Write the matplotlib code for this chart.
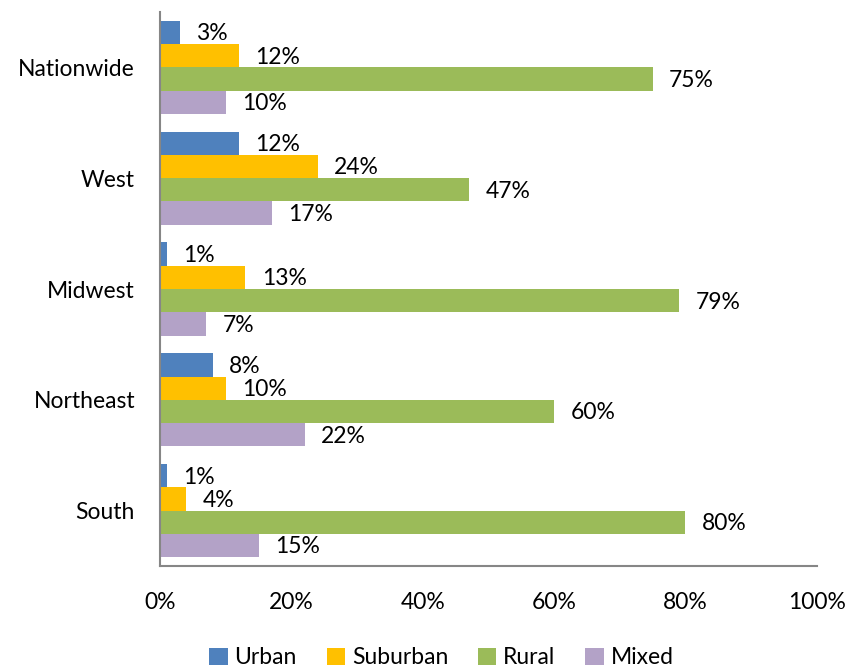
import matplotlib.pyplot as plt
import numpy as np

plt.rcParams['font.family'] = ['Lato', 'DejaVu Sans']

regions = ['Nationwide', 'West', 'Midwest', 'Northeast', 'South']
series = ['Urban', 'Suburban', 'Rural', 'Mixed']
urban = [3, 12, 1, 8, 1]
suburban = [12, 24, 13, 10, 4]
rural = [75, 47, 79, 60, 80]
mixed = [10, 17, 7, 22, 15]
colors = ['#4F81BD', '#FFC000', '#9BBB59', '#B3A2C7']

fig = plt.figure(figsize=(8.49, 6.69), dpi=100)
ax = fig.add_axes([0.1885, 0.154, 0.7735, 0.828])

y = np.arange(len(regions))
h = 0.21
fs = 16.5
for i, (name, vals) in enumerate(zip(series, [urban, suburban, rural, mixed])):
    pos = y - 1.5 * h + i * h
    ax.barh(pos, vals, height=h, color=colors[i], label=name)
    for p, v in zip(pos, vals):
        ax.annotate(f'{v}%', (v, p), xytext=(12, -1), textcoords='offset points',
                    va='center', ha='left', fontsize=fs)

ax.set_xlim(0, 100)
ax.set_ylim(len(regions) - 0.5, -0.5)
ax.set_yticks(y)
ax.set_yticklabels(regions, fontsize=fs)
ax.set_xticks(np.arange(0, 101, 20))
ax.set_xticklabels([f'{t}%' for t in range(0, 101, 20)], fontsize=fs)
ax.tick_params(axis='x', length=0, pad=19)
ax.tick_params(axis='y', length=0, pad=18)
for s in ['top', 'right']:
    ax.spines[s].set_visible(False)
for s in ['left', 'bottom']:
    ax.spines[s].set_color('#868686')
    ax.spines[s].set_linewidth(1.5)

fig.legend(loc='lower center', bbox_to_anchor=(0.52, -0.03), ncol=4, frameon=False,
           fontsize=fs, handlelength=0.8, handleheight=0.8, handletextpad=0.3,
           columnspacing=1.3)

plt.savefig('out.png', dpi=100)
